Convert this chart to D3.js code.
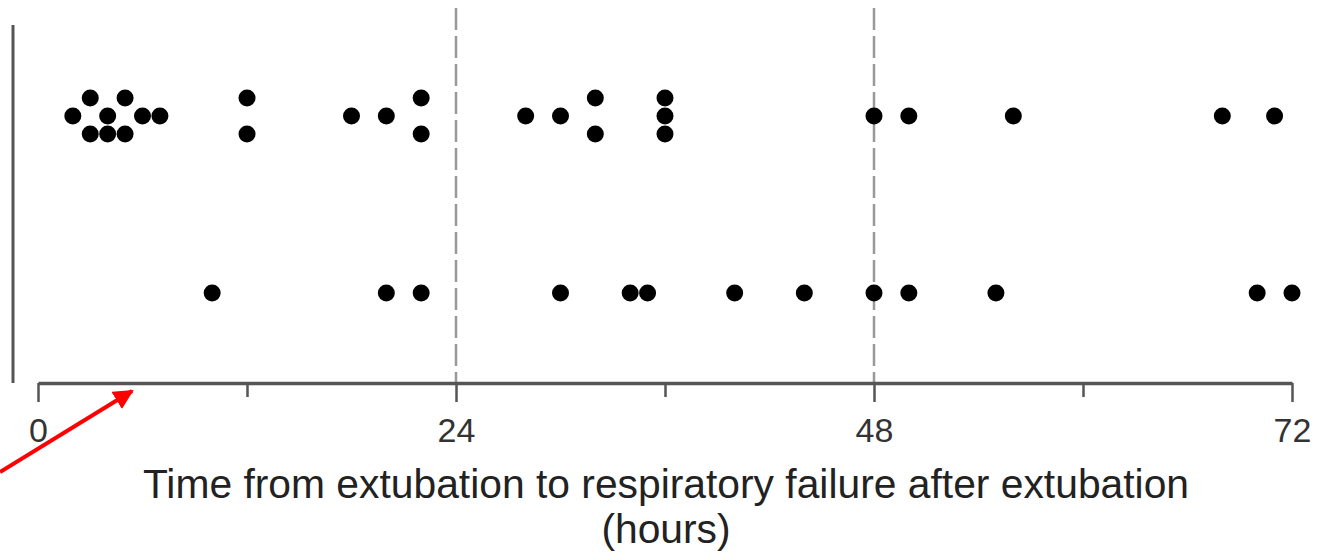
<!DOCTYPE html>
<html>
<head>
<meta charset="utf-8">
<script src="https://cdn.jsdelivr.net/npm/d3@7/dist/d3.min.js"></script>
<title>Time to respiratory failure</title>
<style>
  body { margin: 0; background: #fff; }
  text { font-family: "Liberation Sans", Arial, sans-serif; }
</style>
</head>
<body>
<script>

// group on each row (top / bottom), hours, and stacking lane (-1 up, 0 middle, 1 down)
var topHours = [2, 3, 3, 4, 4, 5, 5, 6, 7, 12, 12, 18, 20, 22, 22, 28, 30, 32, 32, 36, 36, 36, 48, 50, 56, 68, 71];
var topLanes = [0, -1, 1, 0, 1, -1, 1, 0, 0, -1, 1, 0, 0, -1, 1, 0, 0, -1, 1, -1, 0, 1, 0, 0, 0, 0, 0];
var bottomHours = [10, 20, 22, 30, 34, 35, 40, 44, 48, 50, 55, 70, 72];
var bottomLanes = [0, 0, 0, 0, 0, 0, 0, 0, 0, 0, 0, 0, 0];

var groups = ["top", "bottom"];
var tickValues = [0, 12, 24, 36, 48, 60, 72];
var labelledTicks = [0, 24, 48, 72];
var cutoffs = [24, 48];
var axisTitle = ["Time from extubation to respiratory failure after extubation", "(hours)"];

var width = 1323,
    height = 554,
    axisY = 383;

var svg = d3.select( "body" )
  .append( "svg" )
  .attr( "width", width )
  .attr( "height", height );

var x = d3.scaleLinear()
    .domain([0, 72])
    .range([38, 1292]);

var y = d3.scalePoint()
    .domain(groups)
    .range([116, 293]);

var lane = d3.scaleLinear()
    .domain([-1, 1])
    .range([-18, 18]);

var points = [];
topHours.forEach(function(h, i) { points.push({ group: "top", hours: h, lane: topLanes[i] }); });
bottomHours.forEach(function(h, i) { points.push({ group: "bottom", hours: h, lane: bottomLanes[i] }); });

// left frame line
svg.append( "line" )
  .attr( "x1", 13 ).attr( "x2", 13 )
  .attr( "y1", 25 ).attr( "y2", axisY )
  .attr( "stroke", "#555" )
  .attr( "stroke-width", 3 );

// dashed cut-offs
svg.selectAll( ".cut" )
  .data( cutoffs )
  .enter()
  .append( "line" )
  .attr( "class", "cut" )
  .attr( "x1", function(d) { return x(d); } )
  .attr( "x2", function(d) { return x(d); } )
  .attr( "y1", 8 )
  .attr( "y2", axisY )
  .attr( "stroke", "#999" )
  .attr( "stroke-width", 2.5 )
  .attr( "stroke-dasharray", "22,6" );

// axis
var axis = d3.axisBottom( x )
    .tickValues( tickValues )
    .tickSizeOuter( 0 )
    .tickFormat( function(d) { return labelledTicks.indexOf(d) > -1 ? d : ""; } );

var ax = svg.append( "g" )
  .attr( "transform", "translate(0," + axisY + ")" )
  .call( axis );

ax.select( ".domain" )
  .attr( "stroke", "#555" )
  .attr( "stroke-width", 3.5 );

ax.selectAll( ".tick line" )
  .attr( "stroke", "#555" )
  .attr( "stroke-width", 2.5 )
  .attr( "y2", function(d) { return labelledTicks.indexOf(d) > -1 ? 19 : 14; } );

ax.selectAll( ".tick text" )
  .attr( "y", 59 )
  .attr( "dy", 0 )
  .attr( "fill", "#333" )
  .style( "font-size", "34px" )
  .style( "font-family", "'Liberation Sans', Arial, sans-serif" );

// dots
svg.selectAll( "circle" )
  .data( points )
  .enter()
  .append( "circle" )
  .attr( "cx", function(d) { return x(d.hours); } )
  .attr( "cy", function(d) { return y(d.group) + lane(d.lane); } )
  .attr( "r", 8.5 )
  .attr( "fill", "#000" );

// axis title
svg.selectAll( ".title" )
  .data( axisTitle )
  .enter()
  .append( "text" )
  .attr( "class", "title" )
  .attr( "x", (x(0) + x(72)) / 2 + 1 )
  .attr( "y", function(d, i) { return 498 + i * 45; } )
  .attr( "text-anchor", "middle" )
  .attr( "fill", "#222" )
  .style( "font-size", "40.8px" )
  .text( function(d) { return d; } );

// red annotation arrow
svg.append( "defs" ).append( "marker" )
  .attr( "id", "head" )
  .attr( "viewBox", "0 0 10 10" )
  .attr( "refX", 9 ).attr( "refY", 5 )
  .attr( "markerWidth", 5 ).attr( "markerHeight", 5 )
  .attr( "markerUnits", "strokeWidth" )
  .attr( "orient", "auto" )
  .append( "path" )
  .attr( "d", "M0,0 L10,5 L0,10 z" )
  .attr( "fill", "#f00" );

svg.append( "line" )
  .attr( "x1", x(-2.18) ).attr( "y1", axisY + 89 )
  .attr( "x2", x(5.4) ).attr( "y2", axisY + 8 )
  .attr( "stroke", "#f00" )
  .attr( "stroke-width", 4 )
  .attr( "marker-end", "url(#head)" );

</script>
</body>
</html>
